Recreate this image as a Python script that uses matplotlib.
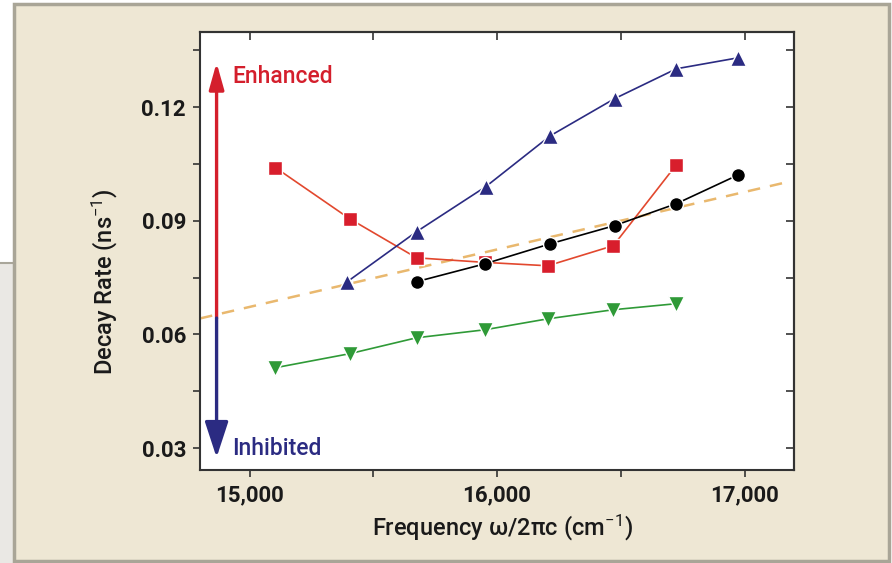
import matplotlib
matplotlib.use("Agg")
import matplotlib.pyplot as plt
from matplotlib.patches import Rectangle
from matplotlib.ticker import FixedLocator, FuncFormatter

plt.rcParams['font.family'] = ['Roboto', 'DejaVu Sans']
plt.rcParams['mathtext.fontset'] = 'custom'
plt.rcParams['mathtext.rm'] = 'Roboto'
plt.rcParams['mathtext.it'] = 'Roboto'

# 讀圖估計的資料
red_x = [15105, 15405, 15675, 15950, 16205, 16470, 16725]
red_y = [0.1040, 0.0905, 0.0802, 0.0790, 0.0781, 0.0834, 0.1048]

blue_x = [15395, 15675, 15955, 16215, 16475, 16725, 16975]
blue_y = [0.0739, 0.0871, 0.0990, 0.1124, 0.1222, 0.1301, 0.1330]

black_x = [15675, 15950, 16215, 16475, 16725, 16975]
black_y = [0.0739, 0.0786, 0.0839, 0.0887, 0.0945, 0.1021]

green_x = [15105, 15405, 15675, 15950, 16205, 16470, 16725]
green_y = [0.0512, 0.0549, 0.0591, 0.0612, 0.0641, 0.0665, 0.0681]

fit_x = [14800, 17160]
fit_y = [0.0642, 0.1000]

x_ticks = [15000, 16000, 17000]
x_minor = [15500, 16500]
y_ticks = [0.03, 0.06, 0.09, 0.12]
y_minor = [0.045, 0.075, 0.105, 0.135]

arrow_x = 14867
arrow_mid = 0.0643
arrow_top = 0.1317
arrow_bottom = 0.0275

fig = plt.figure(figsize=(8.92, 5.63), dpi=100)
fig.patch.set_facecolor("white")

# 背景面板
fig.add_artist(Rectangle((0, 0), 14 / 892, 1 - 263 / 563, transform=fig.transFigure,
                         facecolor="#EAE8E4", edgecolor="none", zorder=0))
fig.add_artist(Rectangle((0, 1 - 263 / 563), 14 / 892, 0.0, transform=fig.transFigure,
                         facecolor="none", edgecolor="#A9A69A", lw=1.5, zorder=0))
fig.add_artist(Rectangle((14 / 892, 2 / 563), 875 / 892, 557 / 563, transform=fig.transFigure,
                         facecolor="#EEE7D4", edgecolor="#A9A597", lw=2.5, zorder=0))

ax = fig.add_axes([200 / 892, 1 - 470 / 563, 594 / 892, 438 / 563])
ax.set_facecolor("white")

ax.plot(fit_x, fit_y, color="#E9B86E", lw=1.8, dashes=(5, 4), zorder=1)

ax.plot(green_x, green_y, color="#2F9A37", lw=1.2, marker="v", ms=11,
        mfc="#2F9A37", mec="white", mew=1.0, zorder=3)
ax.plot(red_x, red_y, color="#E2482E", lw=1.2, marker="s", ms=9.5,
        mfc="#D81E2C", mec="white", mew=1.0, zorder=3)
ax.plot(blue_x, blue_y, color="#2B2B82", lw=1.2, marker="^", ms=12,
        mfc="#2B2B82", mec="white", mew=1.0, zorder=3)
ax.plot(black_x, black_y, color="black", lw=1.2, marker="o", ms=10,
        mfc="black", mec="white", mew=1.0, zorder=4)

# Enhanced / Inhibited 箭頭
ax.annotate("", xy=(arrow_x, arrow_top), xytext=(arrow_x, arrow_mid),
            arrowprops=dict(arrowstyle="-|>,head_length=1.6,head_width=0.45",
                            mutation_scale=10, color="#D41F2C", lw=2.4,
                            shrinkA=0, shrinkB=0), zorder=5)
ax.annotate("", xy=(arrow_x, arrow_bottom), xytext=(arrow_x, arrow_mid),
            arrowprops=dict(arrowstyle="-|>,head_length=2.2,head_width=0.72",
                            mutation_scale=10, color="#2B2B82", lw=2.4,
                            shrinkA=0, shrinkB=0), zorder=5)
ax.text(14930, 0.1280, "Enhanced", color="#D41F2C", fontsize=16.5,
        fontweight="medium", ha="left", va="center")
ax.text(14930, 0.0298, "Inhibited", color="#2B2B82", fontsize=16.5,
        fontweight="medium", ha="left", va="center")

ax.set_xlim(14800, 17200)
ax.set_ylim(0.0242, 0.1398)

ax.xaxis.set_major_locator(FixedLocator(x_ticks))
ax.xaxis.set_minor_locator(FixedLocator(x_minor))
ax.yaxis.set_major_locator(FixedLocator(y_ticks))
ax.yaxis.set_minor_locator(FixedLocator(y_minor))
ax.xaxis.set_major_formatter(FuncFormatter(lambda v, p: f"{int(v):,}"))
ax.yaxis.set_major_formatter(FuncFormatter(lambda v, p: f"{v:.2f}"))

ax.tick_params(which="both", direction="out", length=5, width=1.2, color="#333333",
               labelsize=16, labelcolor="#1a1a1a", top=False, right=False)
ax.tick_params(axis="x", pad=5)
ax.tick_params(axis="y", pad=5)
for lab in ax.get_xticklabels() + ax.get_yticklabels():
    lab.set_fontweight("bold")

# 上方和右方的內側刻度
secx = ax.secondary_xaxis("top")
secx.xaxis.set_major_locator(FixedLocator(x_ticks + x_minor))
secx.tick_params(direction="in", length=6, width=1.2, color="#333333", labeltop=False)
secy = ax.secondary_yaxis("right")
secy.yaxis.set_major_locator(FixedLocator(y_ticks + y_minor))
secy.tick_params(direction="in", length=6, width=1.2, color="#333333", labelright=False)
for sp in list(ax.spines.values()) + [secx.spines["top"], secy.spines["right"]]:
    sp.set_color("#333333")
    sp.set_linewidth(1.5)

ax.set_xlabel("Frequency ω/2πc (cm$^{-1}$)", fontsize=17, fontweight="medium",
              color="#1a1a1a")
ax.set_ylabel("Decay Rate (ns$^{-1}$)", fontsize=17, fontweight="medium",
              color="#1a1a1a")
ax.xaxis.set_label_coords(0.51, -0.132)
ax.xaxis.label.set_va("center")
ax.yaxis.set_label_coords(-0.160, 0.43)
ax.yaxis.label.set_va("center")

fig.savefig("out.png", dpi=100, facecolor=fig.get_facecolor())
